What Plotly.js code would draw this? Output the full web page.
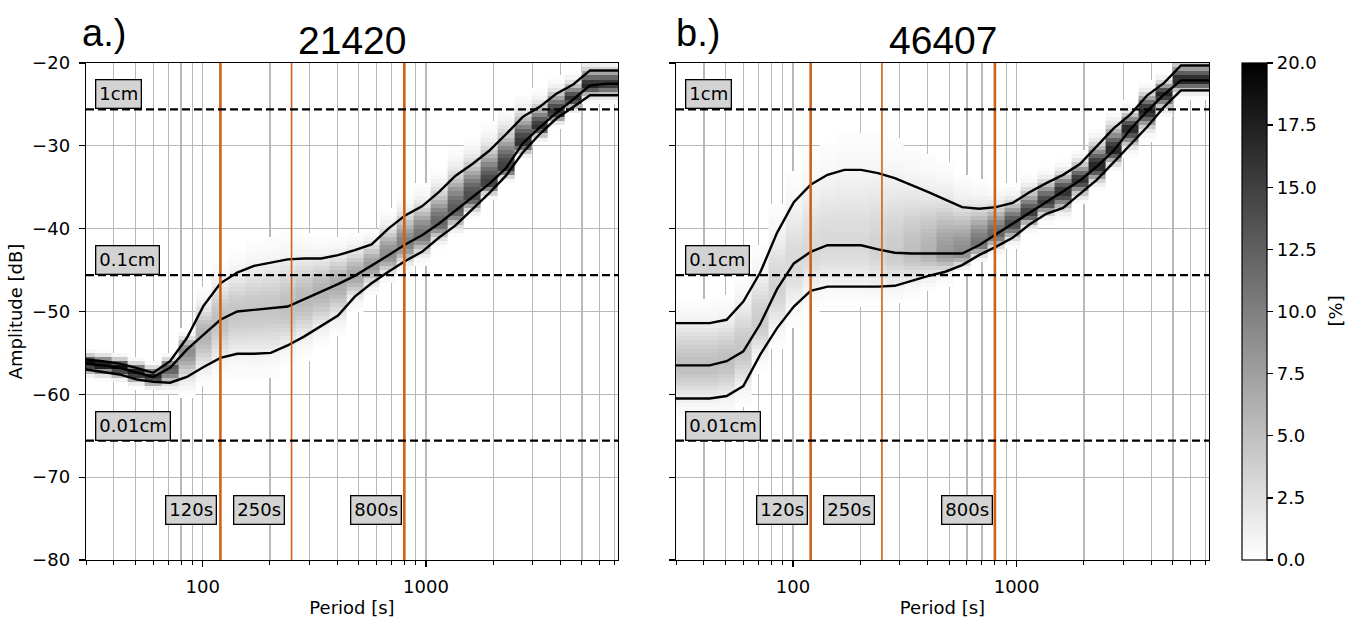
<!DOCTYPE html>
<html>
<head>
<meta charset="utf-8">
<script src="https://cdn.plot.ly/plotly-3.0.1.min.js"></script>
<style>html,body{margin:0;padding:0;background:#fff;}</style>
</head>
<body>
<div id="chart" style="width:1358px;height:618px;"></div>
<script>
// ---------------- data ----------------
const periods = [30, 35.7, 42.4, 50.5, 60, 71.4, 84.9, 100.9, 120, 142.7, 169.7, 201.8, 240, 285.4, 339.4, 403.6, 480, 570.8, 678.8, 807.3, 960, 1141.6, 1357.6, 1614.5, 1920, 2283.3, 2715.3, 3229, 3840, 4566.5, 5430.5, 6457.9, 7680];

// station 21420
const a_upper  = [-55.8, -56.0, -56.3, -56.8, -57.4, -56.0, -53.2, -49.3, -46.6, -45.3, -44.5, -44.1, -43.7, -43.6, -43.6, -43.2, -42.6, -41.9, -40.0, -38.4, -37.3, -35.6, -33.6, -32.2, -30.6, -28.6, -26.5, -25.3, -23.7, -22.6, -20.9, -20.9, -20.9];
const a_median = [-56.3, -56.5, -56.8, -57.4, -57.9, -56.8, -54.6, -52.8, -51.0, -50.0, -49.8, -49.6, -49.4, -48.5, -47.6, -46.7, -45.7, -44.5, -43.2, -41.9, -40.8, -39.4, -37.8, -36.2, -34.6, -32.7, -29.7, -27.8, -26.0, -24.4, -22.7, -22.5, -22.5];
const a_lower  = [-57.0, -57.3, -57.6, -58.2, -58.5, -58.6, -57.9, -56.7, -55.6, -55.1, -55.1, -55.0, -54.1, -53.0, -51.7, -50.5, -48.2, -46.6, -45.2, -43.9, -42.8, -41.1, -39.6, -37.7, -35.7, -33.6, -30.8, -28.6, -26.7, -25.3, -23.9, -23.9, -23.9];
const a_peak   = [19, 19, 19, 18, 17, 13, 9, 6, 5, 4.5, 4.5, 4.5, 5, 5.5, 6, 6.5, 7, 8, 9, 10, 11, 12, 13, 14, 15, 15, 16, 16, 16, 16, 17, 16, 16];

// station 46407
const b_upper  = [-51.4, -51.4, -51.4, -51.0, -48.8, -45.3, -40.5, -36.8, -34.7, -33.5, -32.9, -32.9, -33.3, -33.9, -34.8, -35.6, -36.5, -37.4, -37.6, -37.4, -36.9, -35.6, -34.5, -33.5, -32.2, -30.0, -27.9, -26.2, -23.9, -22.4, -20.3, -20.3, -20.3];
const b_median = [-56.5, -56.5, -56.5, -56.0, -54.8, -51.5, -47.3, -44.2, -42.8, -42.0, -42.0, -42.0, -42.5, -42.9, -43.0, -43.0, -43.0, -43.0, -42.0, -40.7, -39.5, -38.2, -36.8, -35.6, -34.2, -32.5, -30.6, -28.0, -25.8, -23.8, -22.1, -22.1, -22.1];
const b_lower  = [-60.5, -60.5, -60.5, -60.2, -59.0, -55.2, -52.0, -49.4, -47.5, -47.0, -47.0, -47.0, -47.0, -46.9, -46.3, -45.7, -45.2, -44.4, -43.2, -42.2, -41.1, -39.5, -38.2, -37.5, -35.8, -34.1, -32.0, -29.8, -27.7, -25.3, -23.3, -23.3, -23.3];
const b_peak   = [5, 5, 5, 5, 4.5, 4, 3.5, 3, 3, 3, 3, 3, 3.5, 4, 5, 6, 8, 9, 11, 12, 14, 15, 15, 16, 16, 17, 17, 17, 17, 17, 17, 17, 17];

const stationTitles = ['21420', '46407'];
const panelTags = ['a.)', 'b.)'];
const markerPeriods = [120, 250, 800];
const markerLabels = ['120s', '250s', '800s'];
const markerWidths = [2.6, 1.6, 2.6];
const levelDb = [-25.6, -45.6, -65.6];
const levelLabels = ['1cm', '0.1cm', '0.01cm'];
const colorTicks = [0, 2.5, 5, 7.5, 10, 12.5, 15, 17.5, 20];

// ---------------- tables built from the data ----------------
const ampStep = 0.5;
const ampEdges = [];
for (let v = -80; v <= -20 + 1e-9; v += ampStep) ampEdges.push(+v.toFixed(2));
const ampCenters = ampEdges.slice(0, -1).map(v => v + ampStep / 2);

const perEdges = [];
for (let k = 1; k < periods.length; k++) perEdges.push(Math.sqrt(periods[k - 1] * periods[k]));
perEdges.unshift(periods[0] * periods[0] / perEdges[0]);
perEdges.push(periods[periods.length - 1] * periods[periods.length - 1] / perEdges[perEdges.length - 1]);

function buildZ(lower, median, upper, peak) {
  const z = [];
  for (let j = 0; j < ampCenters.length; j++) {
    const a = ampCenters[j];
    const row = [];
    for (let i = 0; i < periods.length; i++) {
      const m = median[i];
      const s = a < m ? Math.max((m - lower[i]) / 1.645, 0.6) : Math.max((upper[i] - m) / 1.645, 0.6);
      const v = peak[i] * Math.exp(-0.5 * Math.pow((a - m) / s, 2));
      row.push(v < 0.15 ? null : v);
    }
    z.push(row);
  }
  return z;
}

const panels = [
  {xa: 'x', ya: 'y', lower: a_lower, median: a_median, upper: a_upper, peak: a_peak},
  {xa: 'x2', ya: 'y2', lower: b_lower, median: b_median, upper: b_upper, peak: b_peak}
];

const traces = [];
panels.forEach(p => {
  traces.push({
    type: 'heatmap', x: perEdges, y: ampEdges, z: buildZ(p.lower, p.median, p.upper, p.peak),
    xaxis: p.xa, yaxis: p.ya, coloraxis: 'coloraxis', hoverinfo: 'skip', zsmooth: false
  });
  [p.upper, p.median, p.lower].forEach(arr => {
    traces.push({
      type: 'scatter', mode: 'lines', x: periods, y: arr, xaxis: p.xa, yaxis: p.ya,
      line: {color: '#000', width: 2.4}, showlegend: false, hoverinfo: 'skip'
    });
  });
});

// ---------------- layout ----------------
const W = 1358, H = 618, ML = 86, MR = 149, MT = 63, MB = 58;
const PW = W - ML - MR, PH = H - MT - MB;
const domA = [0, (618 - ML) / PW];
const domB = [(676 - ML) / PW, 1];
const tickFont = {family: 'DejaVu Sans', size: 18, color: '#000'};
const gridCol = '#b8b8b8';

function xAxis(domain, anchor) {
  return {
    type: 'log', domain: domain, anchor: anchor,
    range: [Math.log10(30), Math.log10(7250)],
    dtick: 1, tickformat: 'd',
    ticks: 'outside', ticklen: 6, tickwidth: 1.3, tickcolor: '#000', ticklabelstandoff: 4,
    showline: true, mirror: true, linecolor: '#000', linewidth: 1.3,
    showgrid: true, gridcolor: gridCol, gridwidth: 1.2, zeroline: false,
    minor: {dtick: 'D1', ticks: 'outside', ticklen: 3.5, tickwidth: 1, tickcolor: '#000',
            showgrid: true, gridcolor: gridCol, gridwidth: 1.2},
    tickfont: tickFont, automargin: false,
    title: {text: 'Period [s]', font: tickFont, standoff: 5}
  };
}
function yAxis(anchor, labels) {
  return {
    domain: [0, 1], anchor: anchor, range: [-80, -20], dtick: 10, tick0: 0,
    ticks: 'outside', ticklen: 6, tickwidth: 1.3, tickcolor: '#000', ticklabelstandoff: 5,
    showticklabels: labels,
    showline: true, mirror: true, linecolor: '#000', linewidth: 1.3,
    showgrid: true, gridcolor: gridCol, gridwidth: 1.2, zeroline: false,
    tickfont: tickFont, automargin: false,
    title: labels ? {text: 'Amplitude [dB]', font: tickFont, standoff: 4} : {text: ''}
  };
}

const shapes = [];
const annotations = [];
panels.forEach((p, k) => {
  const xd = p.xa + ' domain';
  markerPeriods.forEach((mp, i) => {
    shapes.push({type: 'line', xref: p.xa, yref: p.ya + ' domain', x0: mp, x1: mp, y0: 0, y1: 1,
      line: {color: '#d2601a', width: markerWidths[i]}});
  });
  levelDb.forEach(lv => {
    shapes.push({type: 'line', xref: xd, yref: p.ya, x0: 0, x1: 1, y0: lv, y1: lv,
      line: {color: '#000', width: 2.2, dash: '8px,4px'}});
  });
  levelLabels.forEach((t, i) => {
    annotations.push({xref: xd, yref: p.ya, x: 0.017, y: levelDb[i], xanchor: 'left', yanchor: 'bottom',
      text: t, showarrow: false, font: tickFont, bgcolor: '#d3d3d3', bordercolor: '#000',
      borderwidth: 1.3, borderpad: 3});
  });
  const shifts = [-3, -7, -2];
  markerLabels.forEach((t, i) => {
    annotations.push({xref: p.xa, yref: p.ya, x: Math.log10(markerPeriods[i]), y: -74,
      xanchor: 'right', yanchor: 'middle', xshift: shifts[i],
      text: t, showarrow: false, font: tickFont, bgcolor: '#d3d3d3', bordercolor: '#000',
      borderwidth: 1.3, borderpad: 3});
  });
  annotations.push({xref: xd, yref: 'paper', x: 0.5, y: 1 + (MT - 40) / PH, xanchor: 'center', yanchor: 'middle',
    text: stationTitles[k], showarrow: false, font: {family: 'Liberation Sans', size: 39, color: '#000'}});
  annotations.push({xref: xd, yref: 'paper', x: k === 0 ? -0.011 : -0.004, y: 1 + (MT - 33) / PH,
    xanchor: 'left', yanchor: 'middle',
    text: panelTags[k], showarrow: false, font: {family: 'Liberation Sans', size: 38, color: '#000'}});
});
annotations.push({xref: 'paper', yref: 'paper', x: (1335 - ML) / PW, y: 0.5, xanchor: 'center', yanchor: 'middle',
  text: '[%]', textangle: -90, showarrow: false, font: tickFont});

const layout = {
  width: W, height: H,
  margin: {l: ML, r: MR, t: MT, b: MB, pad: 0},
  paper_bgcolor: '#fff', plot_bgcolor: '#fff',
  font: {family: 'DejaVu Sans', size: 18, color: '#000'},
  showlegend: false,
  xaxis: xAxis(domA, 'y'),
  yaxis: yAxis('x', true),
  xaxis2: xAxis(domB, 'y2'),
  yaxis2: yAxis('x2', false),
  coloraxis: {
    cmin: 0, cmax: 20,
    colorscale: [[0, '#ffffff'], [1, '#000000']],
    colorbar: {
      x: (1242 - ML) / PW, xanchor: 'left', xpad: 0, ypad: 0,
      y: 0.5, yanchor: 'middle', len: 1, lenmode: 'fraction',
      thickness: 25, thicknessmode: 'pixels',
      outlinewidth: 1.2, outlinecolor: '#000',
      tickvals: colorTicks, tickformat: '.1f',
      ticks: 'outside', ticklen: 6, tickwidth: 1.3, tickcolor: '#000',
      tickfont: tickFont
    }
  },
  shapes: shapes,
  annotations: annotations
};

Plotly.newPlot('chart', traces, layout, {displayModeBar: false, staticPlot: true});
</script>
</body>
</html>
